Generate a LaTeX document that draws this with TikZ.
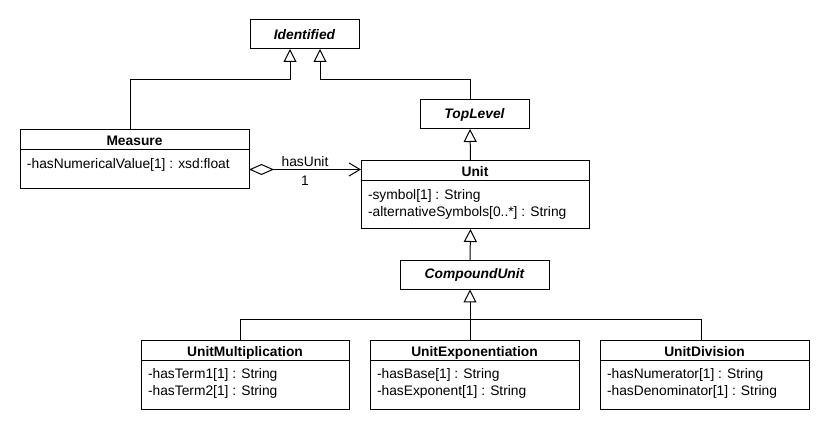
\documentclass[tikz,border=0pt]{standalone}
\usepackage{fontspec}
\setmainfont{Liberation Sans}
\usetikzlibrary{positioning,arrows.meta,calc}

\begin{document}
\begin{tikzpicture}[
    x=1pt, y=-1pt,
    font=\fontsize{13.8}{16.8}\selectfont,
    abstract/.style={  
        rectangle,% Abstract class, one compartment  
        draw,  
        line width=1pt,  
        outer sep=0pt,  
        inner sep=0pt,  
        minimum height=29pt,  
        font=\fontsize{13.8}{16.8}\selectfont\bfseries\itshape,  
    },  
    classname/.style={rectangle, draw, line width=1pt, outer sep=0pt, inner sep=0pt, minimum height=20pt, text height=12pt, text depth=0pt, font=\fontsize{13.8}{16.8}\selectfont\bfseries},
    classbody/.style={rectangle, draw, line width=1pt, outer sep=0pt, inner sep=0pt},
    attrs/.style={inner sep=0pt, outer sep=0pt, align=left},
    inherit/.style={line width=1pt, -{Triangle[open, length=13pt, width=13pt]}},
    assoc/.style={line width=1pt, {Diamond[open, length=25pt, width=11pt]}-{Straight Barb[length=11pt, width=13pt]}}
]
    \useasboundingbox (0,0) rectangle (830,430);

    % Nodes
    \node[abstract, minimum width=109pt] (identified) at (304.5,34.5) {Identified};
    \node[abstract, minimum width=109pt] (toplevel) at (474.5,114.5) {TopLevel};

    \node[classname, minimum width=229pt, anchor=north] (measure) at (134.5,130) {Measure};
    \node[classbody, minimum width=229pt, minimum height=39pt, below=0pt of measure] (measureBody) {};
    \node[attrs, below right=8.5pt and 7pt of measureBody.north west] (measureAttr) {-hasNumericalValue[1] : xsd:float};

    \node[classname, minimum width=228pt, anchor=north] (unit) at (475,161) {Unit};
    \node[classbody, minimum width=228pt, minimum height=48pt, below=0pt of unit] (unitBody) {};
    \node[attrs, below right=8.5pt and 7pt of unitBody.north west] (unitAttr) {-symbol[1] : String\\-alternativeSymbols[0..*] : String};

    \node[abstract, minimum width=149pt] (compound) at (474.5,275) {CompoundUnit};

    \node[classname, minimum width=208pt, anchor=north] (unitMult) at (245,340) {UnitMultiplication};
    \node[classbody, minimum width=208pt, minimum height=49pt, below=0pt of unitMult] (unitMultBody) {};
    \node[attrs, below right=8.5pt and 7pt of unitMultBody.north west] (unitMultAttr) {-hasTerm1[1] : String\\-hasTerm2[1] : String};

    \node[classname, minimum width=209pt, anchor=north] (unitExp) at (474.5,340) {UnitExponentiation};
    \node[classbody, minimum width=209pt, minimum height=49pt, below=0pt of unitExp] (unitExpBody) {};
    \node[attrs, below right=8.5pt and 7pt of unitExpBody.north west] (unitExpAttr) {-hasBase[1] : String\\-hasExponent[1] : String};

    \node[classname, minimum width=209pt, anchor=north] (unitDiv) at (704.5,340) {UnitDivision};
    \node[classbody, minimum width=209pt, minimum height=49pt, below=0pt of unitDiv] (unitDivBody) {};
    \node[attrs, below right=8.5pt and 7pt of unitDivBody.north west] (unitDivAttr) {-hasNumerator[1] : String\\-hasDenominator[1] : String};

    \coordinate (identifiedLeft) at ([xshift=-14.5pt]identified.south);
    \coordinate (identifiedRight) at ([xshift=15.5pt]identified.south);

    % Connections
    \draw[inherit] ([xshift=-4.5pt]measure.north) -- ++(0,-50) -| (identifiedLeft);
    \draw[inherit] ([xshift=-4.5pt]toplevel.north) -- ++(0,-20) -| (identifiedRight);
    \draw[inherit] ([xshift=-4.5pt]unit.north) -- ([xshift=-4.5pt]toplevel.south);
    \draw[inherit] ([xshift=-4.5pt]compound.north) -- ([xshift=-4.5pt]unitBody.south);
    \draw[inherit] ([xshift=-4.5pt]unitExp.north) -- ([xshift=-4.5pt]compound.south);
    \draw[line width=1pt] ([xshift=-4.5pt]unitMult.north) -- ++(0,-20) -| ([xshift=-3.5pt]unitDiv.north);
    \draw[assoc] (measureBody.east) -- (measureBody.east -| unit.west)
        node[midway, above=2pt, inner sep=0pt] (hasUnitLabel) {hasUnit}
        node[midway, below=6pt, inner sep=0pt] (multLabel) {1};
\end{tikzpicture}
\end{document}
